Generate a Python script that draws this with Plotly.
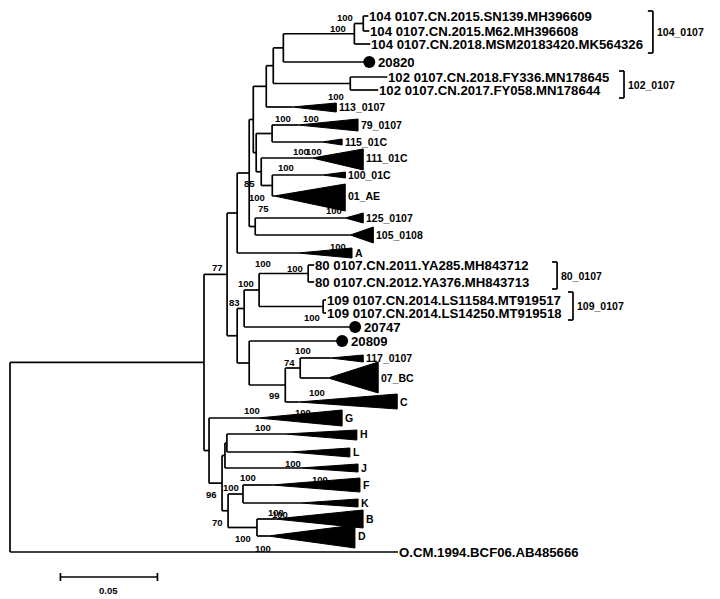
import plotly.graph_objects as go

# ---------------- tree data (branch lengths in substitutions/site) ----------------
int_names = ["ROOT", "ING", "N77", "NUP", "N249", "NA", "N266", "N273", "N283", "N104b", "N104a",
             "N102", "N153", "N79", "N111", "NAE", "N125", "NMID", "N244", "N259", "N80", "N109",
             "N249b", "N285", "N300", "NLOW", "N222", "N225", "N227", "N228", "N243", "N257"]
int_parents = [None, "ROOT", "ING", "N77", "NUP", "N249", "NA", "N266", "N273", "N283", "N104b",
               "N273", "NA", "N153", "N153", "N111", "N249", "N77", "NMID", "N244", "N259", "N259",
               "NMID", "N249b", "N285", "ING", "NLOW", "N222", "N225", "N222", "N228", "N228"]
int_lengths = [0.0, 0.1000, 0.0119, 0.0052, 0.0062, 0.0021, 0.0067, 0.0036, 0.0052, 0.0366, 0.0046,
               0.0397, 0.0015, 0.0082, 0.0026, 0.0057, 0.0031, 0.0052, 0.0036, 0.0077, 0.0253, 0.0330,
               0.0062, 0.0186, 0.0077, 0.0026, 0.0067, 0.0015, 0.0010, 0.0031, 0.0077, 0.0149]

tip_labels = ["104 0107.CN.2015.SN139.MH396609", "104 0107.CN.2015.M62.MH396608",
              "104 0107.CN.2018.MSM20183420.MK564326", "20820",
              "102 0107.CN.2018.FY336.MN178645", "102 0107.CN.2017.FY058.MN178644",
              "80 0107.CN.2011.YA285.MH843712", "80 0107.CN.2012.YA376.MH843713",
              "109 0107.CN.2014.LS11584.MT919517", "109 0107.CN.2014.LS14250.MT919518",
              "20747", "20809", "O.CM.1994.BCF06.AB485666"]
tip_parents = ["N104a", "N104a", "N104b", "N283", "N102", "N102", "N80", "N80", "N109", "N109",
               "N244", "N249b", "ROOT"]
tip_lengths = [0.0026, 0.0031, 0.0082, 0.0443, 0.0191, 0.0144, 0.0031, 0.0031, 0.0015, 0.0015,
               0.0572, 0.0479, 0.2000]
tip_rows = [16, 31, 44, 62, 77, 90, 265, 282, 300, 313, 327, 341, 552]
tip_dot = [False, False, False, True, False, False, False, False, False, False, True, True, False]

clade_labels = ["113_0107", "79_0107", "115_01C", "111_01C", "100_01C", "01_AE", "125_0107",
                "105_0108", "A", "117_0107", "07_BC", "C", "G", "H", "L", "J", "F", "K", "B", "D"]
clade_parents = ["N266", "N79", "N79", "N111", "NAE", "NAE", "N125", "N125", "NUP", "N300", "N300",
                 "N285", "NLOW", "N227", "N227", "N225", "N243", "N243", "N257", "N257"]
clade_stems = [0.0134, 0.0134, 0.0258, 0.0263, 0.0258, 0.0010, 0.0464, 0.0490, 0.0314, 0.0155,
               0.0144, 0.0067, 0.0253, 0.0299, 0.0325, 0.0387, 0.0149, 0.0294, 0.0093, 0.0057]
clade_depths = [0.0227, 0.0309, 0.0103, 0.0263, 0.0119, 0.0366, 0.0093, 0.0119, 0.0278, 0.0170,
                0.0258, 0.0510, 0.0433, 0.0371, 0.0309, 0.0299, 0.0454, 0.0299, 0.0454, 0.0448]
clade_rows = [107, 125, 142, 158, 175, 196, 218, 235, 253, 358, 378, 402, 418, 434, 452, 468, 485,
              503, 519, 536]
clade_top = [103, 119, 139, 149, 172, 184, 213, 227, 248, 355, 362, 394, 410, 430, 448, 464, 478,
             499, 510, 525]
clade_bottom = [112, 131, 145, 170, 178, 211, 223, 243, 258, 362, 393, 409, 426, 440, 457, 472, 492,
                507, 528, 548]

boot_text = ["100", "100", "100", "100", "100", "100", "100", "100", "85", "100", "75", "100", "100",
             "77", "100", "100", "100", "83", "100", "100", "74", "100", "99", "100", "100", "100",
             "100", "100", "100", "100", "96", "100", "100", "70", "100", "100"]
boot_x = [0.1727, 0.1691, 0.1680, 0.1407, 0.1552, 0.1500, 0.1567, 0.1423, 0.1232, 0.1273, 0.1309,
          0.1670, 0.1691, 0.1067, 0.1304, 0.1469, 0.1216, 0.1155, 0.1557, 0.1510, 0.1443, 0.1582,
          0.1361, 0.1247, 0.1510, 0.1304, 0.1459, 0.1227, 0.1598, 0.1139, 0.1041, 0.1371, 0.1392,
          0.1072, 0.1201, 0.1304]
boot_rows = [17, 28, 96, 118, 118, 151, 151, 167, 183, 197, 208, 210, 246, 267, 263, 268, 283, 302,
             317, 350, 362, 392, 395, 410, 412, 427, 463, 477, 479, 487, 494, 512, 514, 522, 538, 548]

group_labels = ["104_0107", "102_0107", "80_0107", "109_0107"]
group_x = [0.3314, 0.3165, 0.2820, 0.2902]
group_top = [11, 71, 262, 292]
group_bottom = [53, 98, 289, 320]

scale_start = 0.026
scale_len = 0.05
scale_row = 577

# ---------------- layout computation ----------------
xpos = {}
for n, p, L in zip(int_names, int_parents, int_lengths):
    xpos[n] = 0.0 if p is None else xpos[p] + L

children = {n: [] for n in int_names}
for n, p in zip(int_names, int_parents):
    if p is not None:
        children[p].append(("int", n))
for i, p in enumerate(tip_parents):
    children[p].append(("tip", i))
for i, p in enumerate(clade_parents):
    children[p].append(("clade", i))

ypos = {}


def child_y(kind, c):
    if kind == "int":
        return node_y(c)
    if kind == "tip":
        return tip_rows[c]
    return clade_rows[c]


def node_y(n):
    if n not in ypos:
        ys = [child_y(k, c) for k, c in children[n]]
        ypos[n] = (min(ys) + max(ys)) / 2
    return ypos[n]


node_y("ROOT")

lx, ly = [], []


def seg(x0, y0, x1, y1):
    lx.extend([x0, x1, None])
    ly.extend([y0, y1, None])


for n, p in zip(int_names, int_parents):
    ys = [child_y(k, c) for k, c in children[n]]
    seg(xpos[n], min(ys), xpos[n], max(ys))
    if p is not None:
        seg(xpos[p], ypos[n], xpos[n], ypos[n])

tip_x = []
for p, L, r in zip(tip_parents, tip_lengths, tip_rows):
    x = xpos[p] + L
    tip_x.append(x)
    seg(xpos[p], r, x, r)

fig = go.Figure()

clade_right = []
for i in range(len(clade_labels)):
    p = clade_parents[i]
    ax = xpos[p] + clade_stems[i]
    rx = ax + clade_depths[i]
    clade_right.append(rx)
    seg(xpos[p], clade_rows[i], ax, clade_rows[i])
    fig.add_trace(go.Scatter(x=[ax, rx, rx, ax], y=[clade_rows[i], clade_top[i], clade_bottom[i], clade_rows[i]],
                             mode="lines", fill="toself", fillcolor="black",
                             line=dict(color="black", width=1), hoverinfo="skip", showlegend=False))

# brackets
for gx, gt, gb in zip(group_x, group_top, group_bottom):
    seg(gx - 0.0026, gt, gx, gt)
    seg(gx, gt, gx, gb)
    seg(gx - 0.0026, gb, gx, gb)

# scale bar
seg(scale_start, scale_row, scale_start + scale_len, scale_row)
seg(scale_start, scale_row - 4, scale_start, scale_row + 4)
seg(scale_start + scale_len, scale_row - 4, scale_start + scale_len, scale_row + 4)

fig.add_trace(go.Scatter(x=lx, y=ly, mode="lines", line=dict(color="black", width=1.7),
                         hoverinfo="skip", showlegend=False))

dx = [x for x, d in zip(tip_x, tip_dot) if d]
dy = [r for r, d in zip(tip_rows, tip_dot) if d]
fig.add_trace(go.Scatter(x=dx, y=dy, mode="markers", marker=dict(color="black", size=12),
                         hoverinfo="skip", showlegend=False))

FONT = "Liberation Sans, Arial, sans-serif"
ann = []
for lab, x, r, d in zip(tip_labels, tip_x, tip_rows, tip_dot):
    ann.append(dict(x=x, y=r, text=lab, xanchor="left", yanchor="middle", showarrow=False,
                    height=12, borderpad=0,
                    xshift=8 if d else 0, font=dict(family=FONT, size=13.2, color="black", weight="bold")))
for lab, x, r in zip(clade_labels, clade_right, clade_rows):
    ann.append(dict(x=x, y=r, text=lab, xanchor="left", yanchor="middle", showarrow=False,
                    xshift=1, font=dict(family=FONT, size=10.5, color="black", weight="bold")))
for t, x, r in zip(boot_text, boot_x, boot_rows):
    ann.append(dict(x=x, y=r, text=t, xanchor="center", yanchor="middle", showarrow=False,
                    font=dict(family=FONT, size=9.5, color="black", weight="bold")))
for lab, x, t, b in zip(group_labels, group_x, group_top, group_bottom):
    ann.append(dict(x=x, y=(t + b) / 2, text=lab, xanchor="left", yanchor="middle", showarrow=False,
                    xshift=2, font=dict(family=FONT, size=10.5, color="black", weight="bold")))
ann.append(dict(x=scale_start + scale_len / 2, y=scale_row + 13, text=f"{scale_len:.2f}", xanchor="center",
                yanchor="middle", showarrow=False, font=dict(family=FONT, size=9.5, color="black", weight="bold")))

# page body has an 8px margin: the figure covers window pixels 8..720 x 8..599
PXU = 1940.0
fig.update_layout(
    width=712, height=591, margin=dict(l=0, r=0, t=0, b=0),
    paper_bgcolor="white", plot_bgcolor="white",
    xaxis=dict(range=[(8 - 10) / PXU, (720 - 10) / PXU], visible=False, fixedrange=True),
    yaxis=dict(range=[599, 8], visible=False, fixedrange=True),
    annotations=ann, showlegend=False,
)
fig.write_html("out.html")
